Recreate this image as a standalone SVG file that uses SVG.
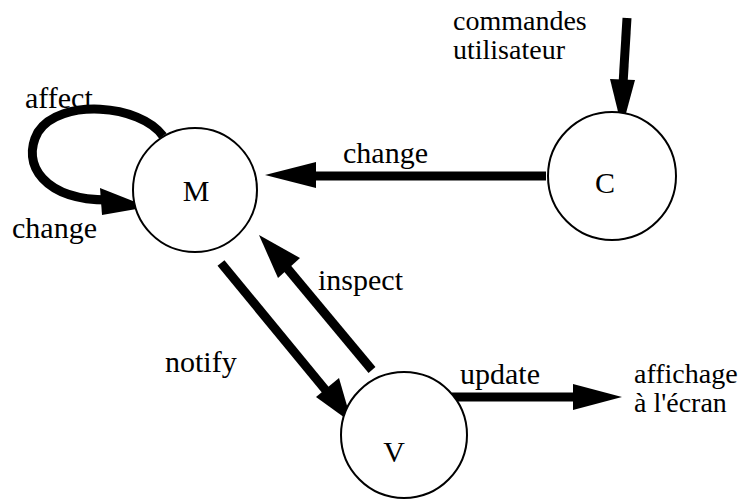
<svg xmlns="http://www.w3.org/2000/svg" width="753" height="504" viewBox="0 0 753 504">
<style>
text{font-family:"Liberation Serif","Times New Roman",serif;font-size:30px;fill:#000}
text.ml{font-size:28px}
.node{fill:#fff;stroke:#000;stroke-width:2}
.edge{fill:none;stroke:#000;stroke-width:9}
.head{fill:#000;stroke:none}
</style>
<rect width="753" height="504" fill="#fff"/>
<g id="connectors">
<path class="edge" d="M163,136 C140,104 60,98 38,132 C20,165 45,200 108,200"/>
<polygon class="head" points="148,207 100,188 102,215"/>
<line class="edge" x1="546" y1="176" x2="312" y2="176"/>
<polygon class="head" points="265,175 316,162 316,188"/>
<line class="edge" x1="627" y1="18" x2="623" y2="84"/>
<polygon class="head" points="622,128 610,79 635,80"/>
<line class="edge" x1="372" y1="370" x2="287" y2="268"/>
<polygon class="head" points="259,235 300,258 278,278"/>
<line class="edge" x1="221" y1="263" x2="328" y2="393"/>
<polygon class="head" points="352,423 339,378 316,397"/>
<line class="edge" x1="452" y1="397" x2="578" y2="397"/>
<polygon class="head" points="622,397 573,384 573,410"/>
</g>
<g id="node-M"><circle class="node" cx="195" cy="190" r="62"/><text x="196" y="201" text-anchor="middle">M</text></g>
<g id="node-C"><circle class="node" cx="612" cy="176" r="64"/><text x="605" y="193" text-anchor="middle">C</text></g>
<g id="node-V"><circle class="node" cx="404" cy="435" r="63"/><text x="394" y="462" text-anchor="middle">V</text></g>
<g id="labels">
<text x="25" y="108">affect</text>
<text x="12" y="238">change</text>
<text x="343" y="163">change</text>
<text x="318" y="290">inspect</text>
<text x="165" y="372">notify</text>
<text x="460" y="384">update</text>
<text class="ml" x="634" y="383">affichage</text>
<text class="ml" x="634" y="412">à l'écran</text>
<text class="ml" x="453" y="30">commandes</text>
<text class="ml" x="453" y="59">utilisateur</text>
</g>
</svg>
